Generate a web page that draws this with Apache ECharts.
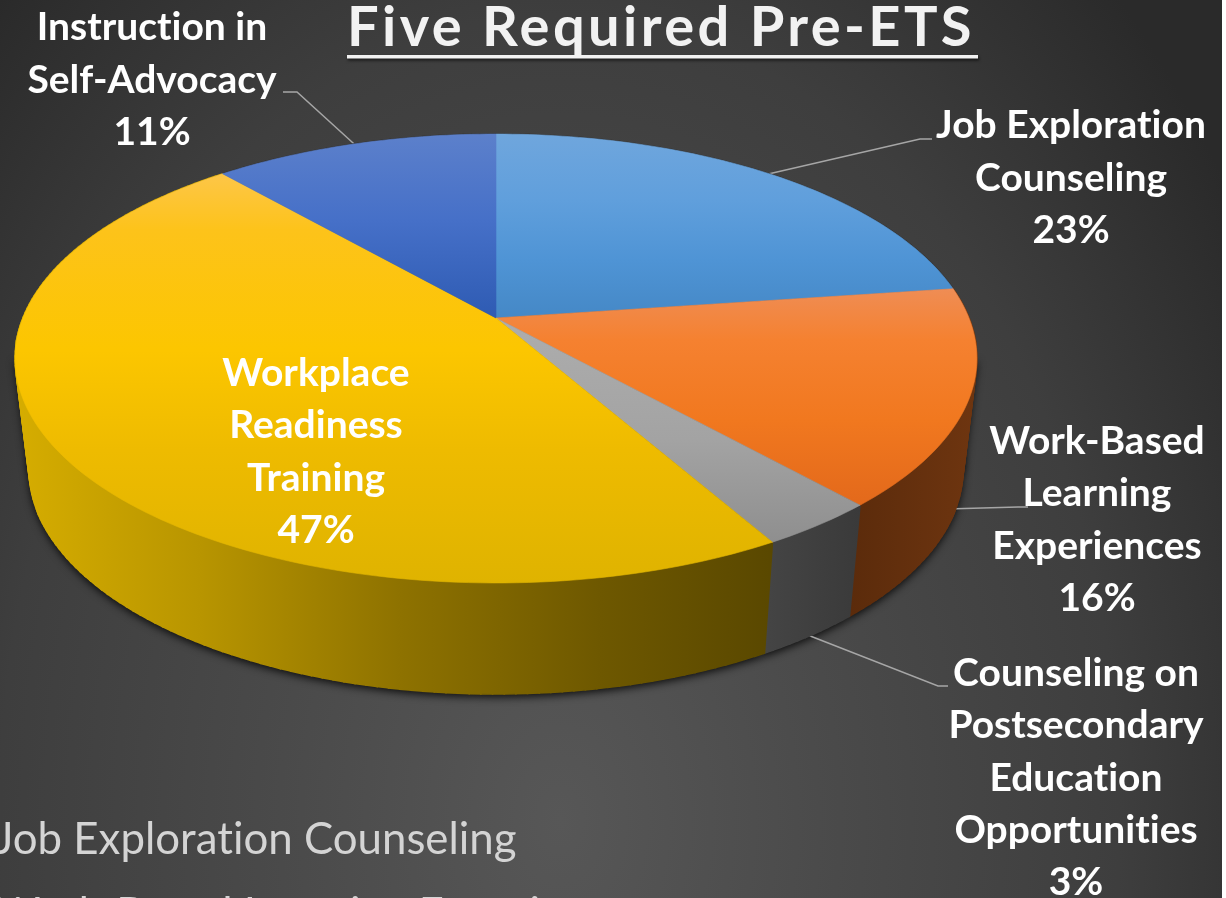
<!DOCTYPE html>
<html><head><meta charset="utf-8">
<script src="https://cdn.jsdelivr.net/npm/echarts@6/dist/echarts.min.js"></script>
<style>
html,body{margin:0;padding:0;background:#fff;overflow:hidden}
#c{width:1222px;height:898px;background:radial-gradient(ellipse 800px 1150px at 560px 820px,#575757 0%,#4a4a4a 35%,#3e3e3e 70%,#2a2a2a 100%)}
</style></head><body><div id="c"></div>
<script>
const titleText = 'Five Required Pre-ETS';
const categories = ['Job Exploration\nCounseling','Work-Based\nLearning\nExperiences','Counseling on\nPostsecondary\nEducation\nOpportunities','Workplace\nReadiness\nTraining','Instruction in\nSelf-Advocacy'];
const values = [22.8, 15.6, 3.4, 46.8, 11.4];
const footerLines = ['Job Exploration Counseling','Work-Based Learning Experiences'];

const labelPos = [[1071,178],[1097,520],[1076,778],[316,452],[152,80]];
const elbows = [[[920,139],[932,139]],[[1018,507],[1028,507]],[[938,686],[948,686]],null,[[297,92],[283,92]]];
const anchorOnWall = [false,true,true,false,false];
const topStops = [
  [[134,'#6fa6dd'],[200,'#609fdc'],[260,'#4f94d5'],[318,'#4588c6']],
  [[288,'#ef8d55'],[340,'#f58130'],[420,'#f1781f'],[505,'#e3691b']],
  [[320,'#adadad'],[440,'#a3a3a3'],[545,'#8e8e8e']],
  [[174,'#fdc648'],[230,'#fdc31a'],[350,'#fcc600'],[450,'#eebb00'],[583,'#dfb300']],
  [[134,'#5c80cb'],[220,'#4670c8'],[318,'#2e5bb3']]
];
const wallStops = [
  [[700,'#333'],[1000,'#333']],
  [[850,'#5b2b0b'],[975,'#6e3510']],
  [[760,'#454545'],[860,'#3a3a3a']],
  [[15,'#d6ad00'],[200,'#b89500'],[400,'#8e7200'],[600,'#6e5800'],[770,'#5a4800']],
  [[200,'#333'],[500,'#333']]
];
// text shaping on the canvases: no ligatures; wider tracking on the title layer
const origGetContext = HTMLCanvasElement.prototype.getContext;
HTMLCanvasElement.prototype.getContext = function(type, opts){
  const ctx = origGetContext.call(this, type, opts);
  if (type === '2d' && ctx && !this.__shaped) {
    this.__shaped = true;
    ctx.textRendering = 'optimizeSpeed';
    if (this.getAttribute('data-zr-dom-id') === 'zr_1') ctx.letterSpacing = '3.4px';
  }
  return ctx;
};
// projection of the disc
const CX=496, RX=473, A=-159.8, B=318, C=0.1804, TANGENTS=[27.9,72.1];
function proj(pct,wall){
  const t=pct/100*2*Math.PI, u=Math.sin(t), v=Math.cos(t), w=1+C*v;
  const x=CX+RX*u/w, y=(A*v+B)/w;
  return wall?[CX+(x-CX)*0.971, y+111]:[x,y];
}
function grad(stops,x0,y0,x1,y1){
  const a=stops[0][0], b=stops[stops.length-1][0];
  return {type:'linear',global:true,x:x0,y:y0,x2:x1,y2:y1,
    colorStops:stops.map(s=>({offset:(s[0]-a)/(b-a),color:s[1]}))};
}
let acc=0;
const rows=values.map((v,i)=>{const r=[i,acc,acc+v];acc+=v;return r;});
const SHADOW={fill:'#222',shadowBlur:9,shadowColor:'rgba(0,0,0,0.85)',shadowOffsetX:0,shadowOffsetY:3};

function renderItem(params,api){
  const i=api.value(0), s=api.value(1), e=api.value(2);
  const n=Math.max(2,Math.ceil((e-s)*3));
  const topArc=[], wallArc=[];
  for(let k=0;k<=n;k++){const p=s+(e-s)*k/n;topArc.push(proj(p,false));wallArc.push(proj(p,true));}
  const apex=[CX,B];
  const ts=topStops[i], ws=wallStops[i];
  const tg=grad(ts,0,ts[0][0],0,ts[ts.length-1][0]);
  const wg=grad(ws,ws[0][0],0,ws[ws.length-1][0],0);
  const mid=(s+e)/2;
  const a=proj(mid,anchorOnWall[i]);
  const children=[
    {type:'polygon',z2:1,shape:{points:[[CX,B+111]].concat(wallArc)},style:SHADOW},
    {type:'polygon',z2:3,shape:{points:[apex].concat(topArc)},style:{fill:tg,stroke:tg,lineWidth:0.6}},
    {type:'text',z2:6,x:labelPos[i][0],y:labelPos[i][1],style:{
      text:categories[i]+'\n'+Math.round(values[i])+'%',
      fill:'#fff',align:'center',verticalAlign:'middle',
      fontFamily:'Lato',fontWeight:'bold',fontSize:39,lineHeight:52.2}}
  ];
  TANGENTS.forEach(t=>{
    if(t>=s&&t<=e){
      children.push({type:'polygon',z2:1,shape:{points:[proj(t,false),proj(t,true),[CX,B+111]]},style:SHADOW});
    }
  });
  for(let k=0;k<n;k++){
    children.push({type:'polygon',z2:2,shape:{points:[topArc[k],topArc[k+1],wallArc[k+1],wallArc[k]]},style:{fill:wg,stroke:wg,lineWidth:1.6}});
  }
  if(elbows[i]){
    children.push({type:'polyline',z2:1.5,shape:{points:[a].concat(elbows[i])},style:{fill:'none',stroke:'#a6a6a6',lineWidth:1.5}});
  }
  return {type:'group',children};
}

const chart=echarts.init(document.getElementById('c'),null,{renderer:'canvas'});
chart.setOption({
  animation:false,
  series:[{type:'custom',coordinateSystem:'none',data:rows,renderItem,silent:true,clip:false}],
  graphic:[
    {type:'text',zlevel:1,z:10,x:347,y:0,style:{text:titleText,fill:'#f2f2f2',fontFamily:'Lato',fontWeight:'bold',fontSize:56,
      shadowBlur:4,shadowColor:'rgba(0,0,0,0.7)',shadowOffsetX:2,shadowOffsetY:2}},
    {type:'rect',z:10,shape:{x:347,y:55,width:631,height:3.5},style:{fill:'#f2f2f2',shadowBlur:3,shadowColor:'rgba(0,0,0,0.6)',shadowOffsetX:1,shadowOffsetY:2}},
    {type:'text',z:10,x:-5,y:818,style:{text:footerLines[0],fill:'#d4d4d4',fontFamily:'Lato',fontSize:43.8}},
    {type:'text',z:10,x:-5,y:893,style:{text:footerLines[1],fill:'#d4d4d4',fontFamily:'Lato',fontSize:43.8}}
  ]
});
</script></body></html>
